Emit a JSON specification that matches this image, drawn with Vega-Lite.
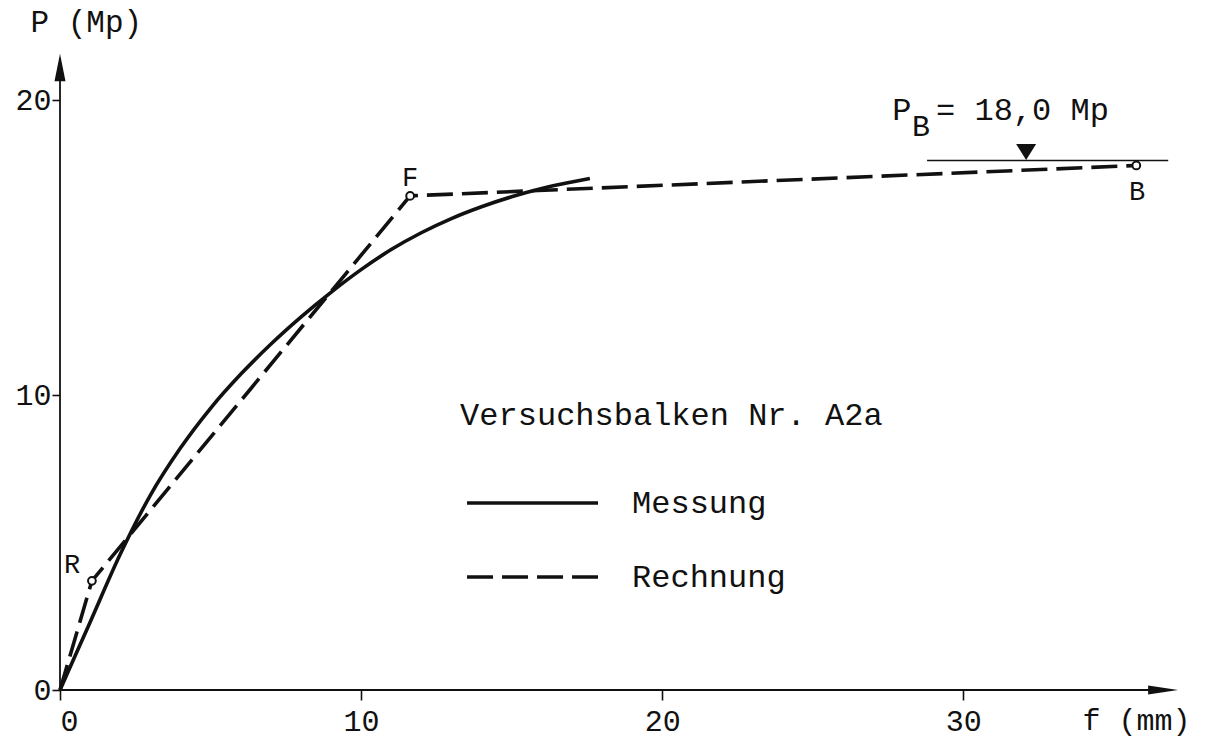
{
  "$schema": "https://vega.github.io/schema/vega-lite/v6.json",
  "width": 1129,
  "height": 649,
  "autosize": {"type": "none"},
  "padding": {"left": 60, "top": 41, "right": 35, "bottom": 56},
  "background": "white",
  "config": {
    "view": {"stroke": null},
    "font": "Liberation Mono",
    "axis": {
      "domain": false,
      "grid": false,
      "tickColor": "#111",
      "tickWidth": 1.6,
      "labelColor": "#111",
      "titleColor": "#111",
      "labelFont": "Liberation Mono",
      "titleFont": "Liberation Mono",
      "titleFontWeight": "normal",
      "labelFontSize": 30,
      "titleFontSize": 31
    }
  },
  "datasets": {
    "messung": [
      {"f": 0, "P": 0}, {"f": 1, "P": 2.3}, {"f": 2, "P": 4.6}, {"f": 3, "P": 6.6},
      {"f": 4, "P": 8.2}, {"f": 5, "P": 9.55}, {"f": 6, "P": 10.7}, {"f": 7, "P": 11.72},
      {"f": 8, "P": 12.64}, {"f": 9, "P": 13.48}, {"f": 10, "P": 14.25}, {"f": 11, "P": 14.93},
      {"f": 12, "P": 15.5}, {"f": 13, "P": 15.98}, {"f": 14, "P": 16.38}, {"f": 15, "P": 16.72},
      {"f": 16, "P": 17.0}, {"f": 17, "P": 17.22}, {"f": 17.6, "P": 17.34}
    ],
    "rechnung": [
      {"f": 0, "P": 0}, {"f": 1.06, "P": 3.7}, {"f": 11.63, "P": 16.75}, {"f": 35.75, "P": 17.78}
    ],
    "knots": [
      {"name": "R", "f": 1.06, "P": 3.7},
      {"name": "F", "f": 11.63, "P": 16.75},
      {"name": "B", "f": 35.75, "P": 17.78}
    ],
    "knotLabels": [
      {"label": "R", "f": 0.4, "P": 4.24},
      {"label": "F", "f": 11.63, "P": 17.36},
      {"label": "B", "f": 35.78, "P": 16.88}
    ],
    "axesLines": [
      {"f": 0, "P": 0, "f2": 36.2, "P2": 0},
      {"f": 0, "P": 0, "f2": 0, "P2": 20.8}
    ],
    "yArrow": [{"f": 0, "P": 21.1}],
    "xArrow": [{"f": 36.64, "P": 0}],
    "pbLine": [{"f": 28.8, "f2": 36.81, "P": 17.95}],
    "pbMarker": [{"f": 32.09, "P": 18.24}],
    "legendSolid": [{"f": 13.52, "P": 6.34}, {"f": 17.87, "P": 6.34}],
    "legendDashed": [{"f": 13.52, "P": 3.83}, {"f": 17.87, "P": 3.83}],
    "texts": [
      {"text": "Versuchsbalken Nr. A2a", "f": 13.29, "P": 9.32},
      {"text": "Messung", "f": 19.0, "P": 6.34},
      {"text": "Rechnung", "f": 19.0, "P": 3.83},
      {"text": "P", "f": 27.64, "P": 19.66},
      {"text": "= 18,0 Mp", "f": 29.1, "P": 19.66}
    ],
    "subscript": [{"text": "B", "f": 28.3, "P": 19.1}]
  },
  "layer": [
    {
      "data": {"name": "messung"},
      "mark": {"type": "line", "color": "#111", "strokeWidth": 3.6, "interpolate": "monotone"},
      "encoding": {
        "x": {
          "field": "f", "type": "quantitative",
          "scale": {"domain": [0, 37.5], "nice": false, "zero": false},
          "axis": {
            "values": [0, 10, 20, 30], "tickSize": 10, "labelPadding": 6,
            "title": "f (mm)", "titleAlign": "left", "titleAnchor": "start",
            "titleX": 1022, "titleY": 30, "titleBaseline": "middle", "titleFontSize": 30
          }
        },
        "y": {
          "field": "P", "type": "quantitative",
          "scale": {"domain": [0, 22], "nice": false, "zero": false},
          "axis": {
            "values": [0, 10, 20], "tickSize": 8, "labelPadding": 1,
            "title": "P (Mp)", "titleAngle": 0, "titleAlign": "left", "titleAnchor": "start",
            "titleX": -30, "titleY": -19, "titleBaseline": "middle"
          }
        }
      }
    },
    {
      "data": {"name": "rechnung"},
      "mark": {"type": "line", "color": "#111", "strokeWidth": 3.6, "strokeDash": [26, 9]},
      "encoding": {
        "x": {"field": "f", "type": "quantitative"},
        "y": {"field": "P", "type": "quantitative"}
      }
    },
    {
      "data": {"name": "axesLines"},
      "mark": {"type": "rule", "color": "#111", "strokeWidth": 1.8},
      "encoding": {
        "x": {"field": "f", "type": "quantitative"},
        "y": {"field": "P", "type": "quantitative"},
        "x2": {"field": "f2"},
        "y2": {"field": "P2"}
      }
    },
    {
      "data": {"name": "yArrow"},
      "mark": {"type": "point", "shape": "M0,-1L0.4,1L-0.4,1Z", "size": 760, "filled": true, "color": "#111", "opacity": 1},
      "encoding": {
        "x": {"field": "f", "type": "quantitative"},
        "y": {"field": "P", "type": "quantitative"}
      }
    },
    {
      "data": {"name": "xArrow"},
      "mark": {"type": "point", "shape": "M1,0L-1,0.3L-1,-0.3Z", "size": 900, "filled": true, "color": "#111", "opacity": 1},
      "encoding": {
        "x": {"field": "f", "type": "quantitative"},
        "y": {"field": "P", "type": "quantitative"}
      }
    },
    {
      "data": {"name": "pbLine"},
      "mark": {"type": "rule", "color": "#111", "strokeWidth": 1.5},
      "encoding": {
        "x": {"field": "f", "type": "quantitative"},
        "x2": {"field": "f2"},
        "y": {"field": "P", "type": "quantitative"}
      }
    },
    {
      "data": {"name": "pbMarker"},
      "mark": {"type": "point", "shape": "M-1,-0.8L1,-0.8L0,0.8Z", "size": 400, "filled": true, "color": "#111", "opacity": 1},
      "encoding": {
        "x": {"field": "f", "type": "quantitative"},
        "y": {"field": "P", "type": "quantitative"}
      }
    },
    {
      "data": {"name": "legendSolid"},
      "mark": {"type": "line", "color": "#111", "strokeWidth": 3.6},
      "encoding": {
        "x": {"field": "f", "type": "quantitative"},
        "y": {"field": "P", "type": "quantitative"}
      }
    },
    {
      "data": {"name": "legendDashed"},
      "mark": {"type": "line", "color": "#111", "strokeWidth": 3.6, "strokeDash": [26, 9]},
      "encoding": {
        "x": {"field": "f", "type": "quantitative"},
        "y": {"field": "P", "type": "quantitative"}
      }
    },
    {
      "data": {"name": "knots"},
      "mark": {"type": "point", "shape": "circle", "size": 60, "filled": true, "fill": "white", "stroke": "#111", "strokeWidth": 2, "opacity": 1},
      "encoding": {
        "x": {"field": "f", "type": "quantitative"},
        "y": {"field": "P", "type": "quantitative"}
      }
    },
    {
      "data": {"name": "knotLabels"},
      "mark": {"type": "text", "font": "Liberation Mono", "fontSize": 27, "color": "#111", "align": "center", "baseline": "middle"},
      "encoding": {
        "x": {"field": "f", "type": "quantitative"},
        "y": {"field": "P", "type": "quantitative"},
        "text": {"field": "label"}
      }
    },
    {
      "data": {"name": "texts"},
      "mark": {"type": "text", "font": "Liberation Mono", "fontSize": 32, "color": "#111", "align": "left", "baseline": "middle"},
      "encoding": {
        "x": {"field": "f", "type": "quantitative"},
        "y": {"field": "P", "type": "quantitative"},
        "text": {"field": "text"}
      }
    },
    {
      "data": {"name": "subscript"},
      "mark": {"type": "text", "font": "Liberation Mono", "fontSize": 30, "color": "#111", "align": "left", "baseline": "middle"},
      "encoding": {
        "x": {"field": "f", "type": "quantitative"},
        "y": {"field": "P", "type": "quantitative"},
        "text": {"field": "text"}
      }
    }
  ]
}
